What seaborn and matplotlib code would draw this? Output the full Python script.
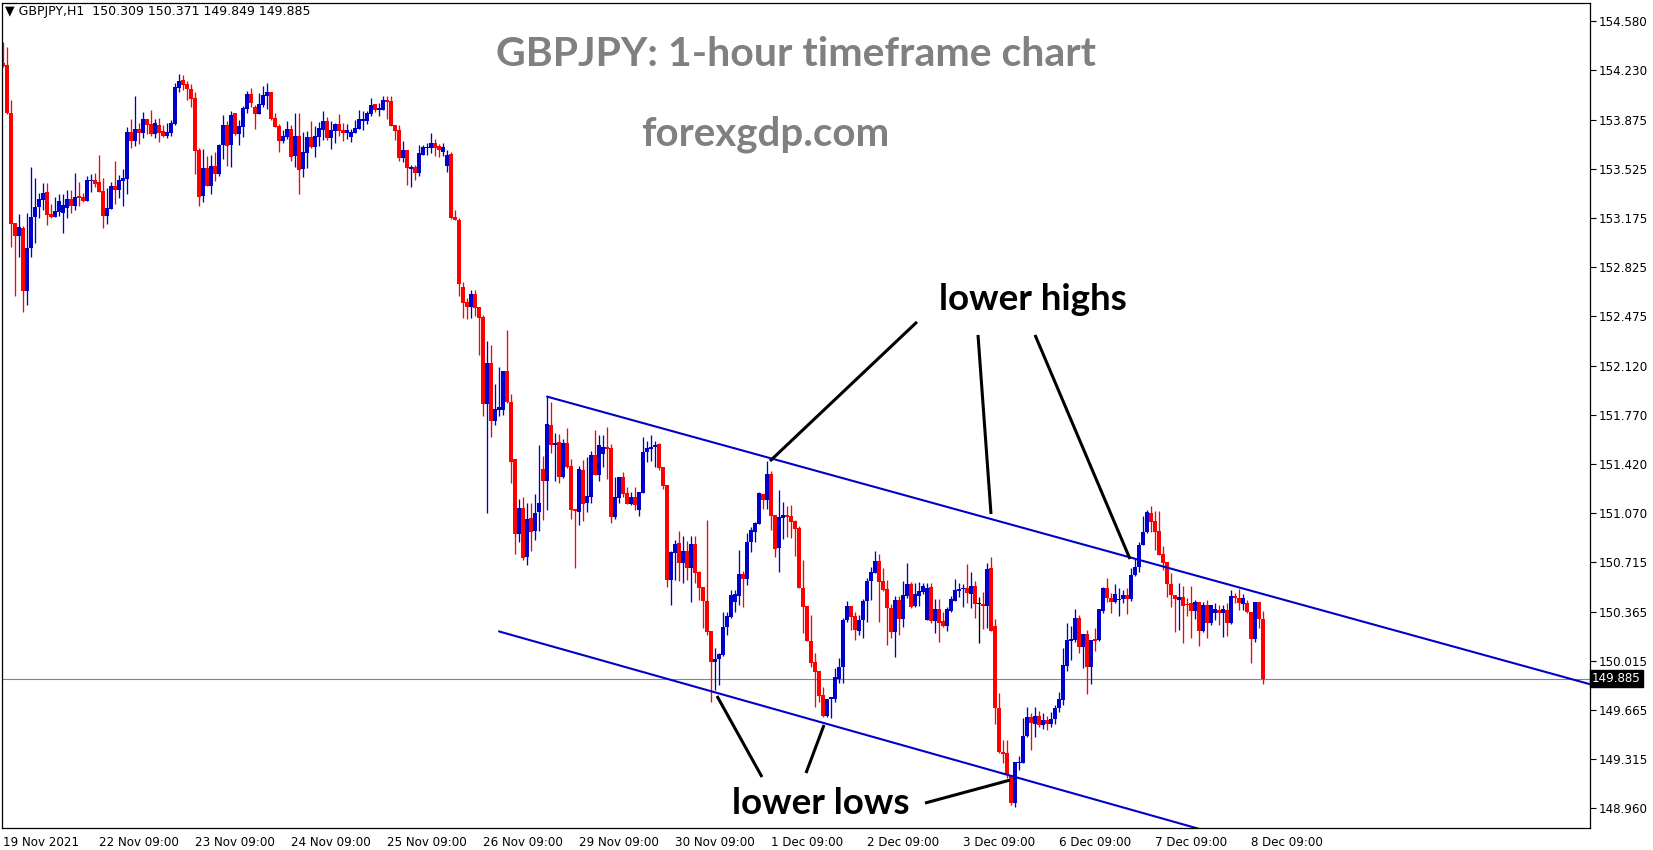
import numpy as np
import pandas as pd
import matplotlib
matplotlib.use("Agg")
import matplotlib.pyplot as plt
import matplotlib.transforms as mtransforms
import seaborn as sns

# ---------------- data (GBPJPY H1) ----------------
opens = [
    154.278, 154.266, 153.926, 153.136, 153.048, 153.103, 152.655, 152.958, 153.179, 153.250,
    153.305, 153.360, 153.203, 153.184, 153.219, 153.212, 153.248, 153.310, 153.262, 153.331,
    153.324, 153.295, 153.438, 153.445, 153.431, 153.367, 153.191, 153.238, 153.403, 153.376,
    153.441, 153.455, 153.788, 153.726, 153.809, 153.781, 153.881, 153.845, 153.771, 153.838,
    153.795, 153.759, 153.783, 153.843, 154.104, 154.159, 154.131, 154.095, 154.031, 153.659,
    153.333, 153.531, 153.405, 153.545, 153.488, 153.695, 153.838, 153.695, 153.921, 153.774,
    153.826, 153.955, 154.059, 153.967, 153.917, 153.981, 154.045, 154.074, 153.888, 153.831,
    153.724, 153.752, 153.809, 153.617, 153.760, 153.524, 153.641, 153.752, 153.681, 153.752,
    153.802, 153.867, 153.745, 153.798, 153.845, 153.802, 153.781, 153.752, 153.781, 153.809,
    153.869, 153.867, 153.917, 153.988, 153.945, 153.945, 154.017, 154.009, 153.838, 153.802,
    153.602, 153.660, 153.524, 153.538, 153.495, 153.624, 153.674, 153.674, 153.710, 153.688,
    153.645, 153.545, 153.631, 153.181, 153.160, 152.680, 152.574, 152.541, 152.631, 152.539,
    152.467, 151.846, 152.139, 151.725, 151.803, 151.803, 152.082, 151.861, 151.454, 150.918,
    151.104, 150.754, 151.033, 150.940, 151.075, 151.382, 151.297, 151.696, 151.554, 151.575,
    151.325, 151.568, 151.404, 151.097, 151.075, 151.375, 151.140, 151.183, 151.482, 151.339,
    151.489, 151.539, 151.532, 151.040, 151.175, 151.325, 151.211, 151.133, 151.182, 151.090,
    151.211, 151.504, 151.525, 151.539, 151.561, 151.399, 151.268, 150.590, 150.785, 150.854,
    150.714, 150.797, 150.676, 150.847, 150.649, 150.542, 150.440, 150.228, 150.007, 150.024,
    150.055, 150.252, 150.328, 150.435, 150.476, 150.633, 150.599, 150.861, 150.933, 150.992,
    151.204, 151.161, 151.349, 151.054, 150.818, 151.035, 151.049, 151.047, 151.013, 150.959,
    150.535, 150.404, 150.157, 150.005, 149.943, 149.767, 149.619, 149.738, 149.743, 149.881,
    149.966, 150.304, 150.402, 150.333, 150.228, 150.304, 150.440, 150.585, 150.642, 150.725,
    150.583, 150.525, 150.387, 150.221, 150.447, 150.311, 150.478, 150.561, 150.404, 150.473,
    150.502, 150.304, 150.540, 150.300, 150.380, 150.297, 150.261, 150.371, 150.442, 150.514,
    150.523, 150.530, 150.490, 150.547, 150.416, 150.416, 150.407, 150.678, 150.261, 149.674,
    149.364, 149.353, 149.198, 148.996, 149.286, 149.286, 149.476, 149.609, 149.562, 149.619,
    149.555, 149.590, 149.560, 149.600, 149.680, 149.734, 149.979, 150.157, 150.162, 150.317,
    150.114, 150.205, 149.972, 150.167, 150.162, 150.369, 150.531, 150.462, 150.431, 150.445,
    150.452, 150.481, 150.457, 150.624, 150.681, 150.840, 150.931, 151.071, 151.011, 150.940,
    150.776, 150.719, 150.562, 150.483, 150.448, 150.471, 150.419, 150.428, 150.371, 150.433,
    150.229, 150.412, 150.286, 150.352, 150.376, 150.352, 150.376, 150.281, 150.478, 150.464,
    150.419, 150.424, 150.364, 150.171, 150.433, 150.309,
]
highs = [
    154.433, 154.397, 154.016, 153.141, 153.203, 153.117, 153.207, 153.540, 153.460, 153.350,
    153.424, 153.422, 153.274, 153.326, 153.345, 153.345, 153.374, 153.374, 153.493, 153.431,
    153.350, 153.476, 153.488, 153.493, 153.624, 153.457, 153.388, 153.434, 153.581, 153.481,
    153.524, 153.826, 153.881, 154.045, 153.850, 153.931, 153.881, 153.945, 153.881, 153.888,
    153.838, 153.852, 153.874, 154.135, 154.202, 154.195, 154.154, 154.131, 154.073, 153.674,
    153.667, 153.617, 153.624, 153.645, 153.702, 153.909, 153.866, 153.938, 153.921, 153.874,
    153.974, 154.081, 154.102, 153.981, 154.066, 154.116, 154.138, 154.074, 153.924, 153.845,
    153.802, 153.867, 153.838, 153.924, 153.924, 153.788, 153.795, 153.867, 153.831, 153.859,
    153.938, 153.895, 153.867, 153.852, 153.917, 153.852, 153.845, 153.810, 153.874, 153.945,
    153.938, 153.938, 154.031, 153.988, 153.995, 154.045, 154.045, 154.045, 153.838, 153.838,
    153.724, 153.660, 153.553, 153.553, 153.695, 153.695, 153.710, 153.781, 153.738, 153.702,
    153.710, 153.660, 153.645, 153.231, 153.170, 152.720, 152.600, 152.660, 152.660, 152.539,
    152.482, 152.296, 152.267, 151.989, 152.110, 152.082, 152.374, 151.918, 151.454, 151.168,
    151.183, 151.137, 151.140, 151.204, 151.554, 151.475, 151.899, 151.861, 151.639, 151.632,
    151.596, 151.675, 151.454, 151.097, 151.404, 151.447, 151.468, 151.511, 151.661, 151.625,
    151.625, 151.682, 151.561, 151.325, 151.325, 151.361, 151.254, 151.218, 151.254, 151.218,
    151.611, 151.582, 151.625, 151.582, 151.568, 151.399, 151.268, 150.797, 150.875, 150.940,
    150.904, 150.868, 150.906, 150.904, 150.657, 150.542, 151.021, 150.228, 150.107, 150.071,
    150.364, 150.364, 150.519, 150.519, 150.804, 150.657, 150.925, 150.968, 151.006, 151.220,
    151.204, 151.439, 151.370, 151.054, 151.232, 151.149, 151.118, 151.123, 151.018, 150.975,
    150.733, 150.404, 150.340, 150.066, 149.943, 149.829, 149.741, 149.757, 149.959, 150.036,
    150.316, 150.440, 150.407, 150.364, 150.340, 150.452, 150.602, 150.685, 150.797, 150.778,
    150.678, 150.590, 150.418, 150.475, 150.475, 150.583, 150.713, 150.575, 150.566, 150.573,
    150.571, 150.571, 150.571, 150.452, 150.452, 150.364, 150.395, 150.475, 150.594, 150.566,
    150.559, 150.706, 150.647, 150.583, 150.471, 150.504, 150.709, 150.754, 150.309, 149.781,
    149.448, 149.448, 149.198, 149.288, 149.334, 149.602, 149.681, 149.643, 149.686, 149.657,
    149.640, 149.620, 149.650, 149.700, 149.793, 150.102, 150.286, 150.264, 150.383, 150.343,
    150.205, 150.233, 150.162, 150.250, 150.383, 150.538, 150.604, 150.495, 150.559, 150.531,
    150.519, 150.531, 150.676, 150.738, 150.861, 151.047, 151.092, 151.121, 151.085, 151.085,
    150.835, 150.719, 150.643, 150.483, 150.566, 150.547, 150.459, 150.547, 150.448, 150.433,
    150.436, 150.448, 150.412, 150.424, 150.412, 150.412, 150.424, 150.519, 150.495, 150.524,
    150.490, 150.448, 150.364, 150.433, 150.433, 150.371,
]
lows = [
    154.254, 153.916, 152.969, 152.620, 152.898, 152.505, 152.553, 152.898, 152.998, 153.176,
    153.231, 153.124, 153.176, 153.184, 153.188, 153.069, 153.176, 153.207, 153.231, 153.262,
    153.288, 153.295, 153.362, 153.398, 153.362, 153.105, 153.131, 153.238, 153.276, 153.314,
    153.262, 153.345, 153.676, 153.690, 153.705, 153.745, 153.774, 153.759, 153.745, 153.719,
    153.755, 153.747, 153.759, 153.838, 154.073, 154.088, 154.016, 153.969, 153.488, 153.262,
    153.291, 153.405, 153.345, 153.441, 153.474, 153.595, 153.545, 153.540, 153.767, 153.691,
    153.752, 153.926, 153.969, 153.809, 153.917, 153.964, 153.952, 153.874, 153.826, 153.645,
    153.707, 153.738, 153.581, 153.538, 153.346, 153.467, 153.531, 153.674, 153.610, 153.688,
    153.731, 153.731, 153.667, 153.710, 153.760, 153.724, 153.738, 153.717, 153.781, 153.809,
    153.802, 153.845, 153.902, 153.931, 153.902, 153.945, 153.881, 153.831, 153.731, 153.581,
    153.574, 153.410, 153.396, 153.446, 153.474, 153.624, 153.624, 153.638, 153.617, 153.610,
    153.617, 153.503, 153.167, 153.160, 152.620, 152.460, 152.453, 152.460, 152.474, 152.196,
    151.761, 151.068, 151.611, 151.696, 151.761, 151.768, 151.853, 151.282, 150.776, 150.861,
    150.733, 150.697, 150.797, 150.876, 150.940, 151.018, 151.090, 151.497, 151.297, 151.282,
    151.318, 151.389, 151.025, 150.676, 150.983, 151.011, 151.075, 151.140, 151.339, 151.297,
    151.397, 151.311, 150.997, 151.025, 151.137, 151.182, 151.133, 151.125, 151.090, 151.047,
    151.211, 151.432, 151.440, 151.397, 151.375, 151.242, 150.542, 150.411, 150.590, 150.583,
    150.566, 150.590, 150.435, 150.566, 150.447, 150.245, 150.197, 149.722, 149.805, 149.840,
    150.050, 150.197, 150.321, 150.364, 150.411, 150.400, 150.552, 150.792, 150.859, 150.992,
    151.094, 151.094, 150.949, 150.756, 150.649, 150.880, 150.899, 150.887, 150.764, 150.530,
    150.214, 150.157, 149.971, 149.681, 149.721, 149.614, 149.614, 149.603, 149.721, 149.852,
    149.857, 150.292, 150.233, 150.161, 150.197, 150.173, 150.292, 150.447, 150.637, 150.292,
    150.514, 150.126, 150.173, 150.038, 150.195, 150.257, 150.464, 150.387, 150.395, 150.404,
    150.490, 150.304, 150.280, 150.209, 150.150, 150.257, 150.226, 150.364, 150.437, 150.466,
    150.395, 150.428, 150.388, 150.316, 150.138, 150.242, 150.245, 150.228, 149.562, 149.353,
    149.281, 149.174, 148.984, 148.972, 149.234, 149.286, 149.471, 149.376, 149.471, 149.543,
    149.530, 149.520, 149.540, 149.560, 149.650, 149.700, 149.943, 150.019, 150.145, 150.067,
    149.960, 149.774, 149.848, 150.086, 150.157, 150.352, 150.431, 150.352, 150.424, 150.336,
    150.424, 150.348, 150.443, 150.621, 150.647, 150.840, 150.926, 150.931, 150.804, 150.769,
    150.662, 150.467, 150.395, 150.221, 150.233, 150.138, 150.333, 150.174, 150.309, 150.121,
    150.217, 150.174, 150.267, 150.305, 150.269, 150.186, 150.191, 150.276, 150.424, 150.376,
    150.376, 150.352, 150.000, 150.150, 150.245, 149.849,
]
closes = [
    154.261, 153.926, 153.129, 153.048, 153.110, 152.655, 152.958, 153.179, 153.250, 153.310,
    153.353, 153.198, 153.184, 153.224, 153.295, 153.267, 153.310, 153.262, 153.324, 153.319,
    153.295, 153.445, 153.445, 153.419, 153.362, 153.191, 153.243, 153.403, 153.374, 153.445,
    153.460, 153.788, 153.726, 153.809, 153.781, 153.881, 153.838, 153.774, 153.852, 153.781,
    153.759, 153.788, 153.852, 154.109, 154.152, 154.123, 154.095, 154.023, 153.655, 153.326,
    153.531, 153.405, 153.545, 153.488, 153.695, 153.838, 153.690, 153.909, 153.774, 153.831,
    153.962, 154.059, 153.993, 153.917, 153.988, 154.052, 154.074, 153.881, 153.826, 153.724,
    153.760, 153.809, 153.610, 153.760, 153.517, 153.645, 153.752, 153.681, 153.760, 153.817,
    153.867, 153.745, 153.802, 153.845, 153.795, 153.781, 153.802, 153.788, 153.817, 153.881,
    153.874, 153.924, 153.981, 153.945, 153.959, 154.017, 154.002, 153.831, 153.795, 153.602,
    153.660, 153.531, 153.538, 153.495, 153.638, 153.681, 153.681, 153.710, 153.674, 153.660,
    153.681, 153.624, 153.174, 153.160, 152.700, 152.570, 152.541, 152.631, 152.534, 152.460,
    151.846, 152.139, 151.725, 151.811, 151.825, 152.082, 151.861, 151.432, 150.918, 151.104,
    150.747, 151.025, 150.933, 151.068, 151.140, 151.297, 151.704, 151.554, 151.568, 151.325,
    151.568, 151.397, 151.090, 151.083, 151.382, 151.133, 151.190, 151.482, 151.339, 151.554,
    151.539, 151.525, 151.040, 151.182, 151.325, 151.204, 151.133, 151.182, 151.125, 151.218,
    151.504, 151.532, 151.539, 151.554, 151.389, 151.263, 150.590, 150.792, 150.847, 150.714,
    150.797, 150.676, 150.847, 150.642, 150.535, 150.440, 150.221, 150.007, 150.028, 150.064,
    150.257, 150.333, 150.485, 150.490, 150.633, 150.599, 150.861, 150.947, 150.997, 151.209,
    151.161, 151.349, 151.049, 150.811, 151.042, 151.054, 151.042, 151.006, 150.954, 150.530,
    150.400, 150.157, 149.999, 149.936, 149.762, 149.619, 149.741, 149.752, 149.895, 149.971,
    150.304, 150.402, 150.328, 150.233, 150.304, 150.440, 150.585, 150.645, 150.725, 150.573,
    150.518, 150.387, 150.221, 150.447, 150.311, 150.480, 150.561, 150.399, 150.490, 150.511,
    150.547, 150.535, 150.300, 150.380, 150.285, 150.261, 150.380, 150.452, 150.518, 150.523,
    150.530, 150.495, 150.547, 150.416, 150.416, 150.407, 150.671, 150.228, 149.674, 149.360,
    149.345, 149.198, 148.996, 149.288, 149.293, 149.476, 149.609, 149.567, 149.619, 149.555,
    149.590, 149.560, 149.600, 149.680, 149.740, 149.984, 150.162, 150.169, 150.317, 150.114,
    150.205, 149.972, 150.162, 150.152, 150.383, 150.531, 150.459, 150.431, 150.488, 150.457,
    150.481, 150.457, 150.626, 150.681, 150.840, 150.931, 151.078, 151.004, 150.933, 150.769,
    150.709, 150.559, 150.481, 150.452, 150.471, 150.405, 150.409, 150.371, 150.433, 150.229,
    150.412, 150.286, 150.412, 150.381, 150.357, 150.381, 150.281, 150.478, 150.459, 150.428,
    150.459, 150.359, 150.171, 150.433, 150.309, 149.885,
]

date_labels = ["19 Nov 2021", "22 Nov 09:00", "23 Nov 09:00", "24 Nov 09:00", "25 Nov 09:00",
               "26 Nov 09:00", "29 Nov 09:00", "30 Nov 09:00", "1 Dec 09:00", "2 Dec 09:00",
               "3 Dec 09:00", "6 Dec 09:00", "7 Dec 09:00", "8 Dec 09:00"]
bars_per_label = 24
price_ticks = [154.580, 154.230, 153.875, 153.525, 153.175, 152.825, 152.475, 152.120,
               151.770, 151.420, 151.070, 150.715, 150.365, 150.015, 149.665, 149.315, 148.960]
bid_price = 149.885
header = "\u25BC GBPJPY,H1  150.309 150.371 149.849 149.885"

# channel anchor points (bar index, price)
upper_anchor_x = [136, 316.75]
upper_anchor_y = [151.899, 150.476]
lower_anchor_x = [124, 259.25]
lower_anchor_y = [150.223, 149.134]

# ---------------- figure ----------------
sns.set_theme(style="white")
plt.rcParams["font.family"] = ["DejaVu Sans"]

W, H = 1653, 850
fig = plt.figure(figsize=(W / 100, H / 100), dpi=100)
ax = fig.add_axes([2 / W, (H - 828) / H, (1590 - 2) / W, (828 - 3) / H])
ax.set_facecolor("white")

df = pd.DataFrame({"open": opens, "high": highs, "low": lows, "close": closes})
df["x"] = np.arange(len(df))
BULL, BEAR, DOJI = "#0000CC", "#FF0000", "#000000"
df["color"] = np.where(df["close"] > df["open"], BULL,
                       np.where(df["close"] < df["open"], BEAR, DOJI))

px = (154.708 - 148.820) / 825.0  # price per pixel
ax.vlines(df["x"], df["low"], df["high"], colors=df["color"], linewidth=0.95)
body_bottom = np.minimum(df["open"], df["close"])
body_h = np.maximum(np.abs(df["close"] - df["open"]), px * 1.2)
ax.bar(df["x"], body_h, bottom=body_bottom, width=0.78, color=df["color"], linewidth=0)

# channel rays
xlim = (-0.25, 396.75)
for ax_x, ax_y, x_end in [(upper_anchor_x, upper_anchor_y, 400), (lower_anchor_x, lower_anchor_y, 400)]:
    slope = (ax_y[1] - ax_y[0]) / (ax_x[1] - ax_x[0])
    xs = [ax_x[0], x_end]
    ys = [ax_y[0], ax_y[0] + slope * (x_end - ax_x[0])]
    sns.lineplot(x=xs, y=ys, ax=ax, color="#0000CC", linewidth=1.5, legend=False)

# bid line
ax.axhline(bid_price, color="#778899", linewidth=0.8, zorder=0.5)

# annotation pointer lines
pointer_lines = [
    ((228.5, 152.432), (191.75, 151.439)),
    ((243.75, 152.339), (247.0, 151.061)),
    ((258.0, 152.339), (281.75, 150.740)),
    ((189.75, 149.184), (178.5, 149.762)),
    ((200.75, 149.212), (205.25, 149.555)),
    ((230.5, 148.998), (251.75, 149.162)),
]
for (x0, y0), (x1, y1) in pointer_lines:
    ax.plot([x0, x1], [y0, y1], color="black", linewidth=2.2, solid_capstyle="butt", zorder=5)

ax.text(257.5, 152.589, "lower highs", fontsize=26.5, fontweight="bold", family=["Lato", "DejaVu Sans"],
        ha="center", va="center", color="black", zorder=6)
ax.text(204.5, 148.998, "lower lows", fontsize=26.5, fontweight="bold", family=["Lato", "DejaVu Sans"],
        ha="center", va="center", color="black", zorder=6)
ax.text(198.25, 154.337, "GBPJPY: 1-hour timeframe chart", fontsize=29.5, fontweight="bold",
        family=["Lato", "DejaVu Sans"], ha="center", va="center", color="#808080", zorder=6)
ax.text(190.5, 153.773, "forexgdp.com", fontsize=29, fontweight="bold",
        family=["Lato", "DejaVu Sans"], ha="center", va="center", color="#808080", zorder=6)

# axes
ax.set_xlim(*xlim)
ax.set_ylim(148.820, 154.708)
ax.yaxis.tick_right()
ax.set_yticks(price_ticks)
ax.set_yticklabels([f"{v:.3f}" for v in price_ticks])
xt = [i * bars_per_label for i in range(len(date_labels))]
ax.set_xticks(xt)
ax.set_xticklabels(date_labels)
for lab in ax.get_xticklabels():
    lab.set_ha("left")
ax.tick_params(axis="both", which="major", direction="out", length=4, width=0.8,
               color="black", labelcolor="black", labelsize=8.6)
ax.tick_params(axis="x", pad=2)
ax.tick_params(axis="y", pad=2)
ax.set_xlabel("")
ax.set_ylabel("")
ax.grid(False)
for s in ax.spines.values():
    s.set_visible(True)
    s.set_color("black")
    s.set_linewidth(0.9)

# bid price box
trans = mtransforms.blended_transform_factory(ax.transAxes, ax.transData)
ax.text(1.0012, bid_price, f"{bid_price:.3f}", transform=trans, fontsize=8.6, color="white",
        ha="left", va="center", zorder=10, clip_on=False,
        bbox=dict(boxstyle="square,pad=0.18", fc="black", ec="black"))

fig.text(5 / W, 1 - 12 / H, header, fontsize=9.0, color="black", ha="left", va="center")

fig.savefig("out.png", dpi=100, facecolor="white")
